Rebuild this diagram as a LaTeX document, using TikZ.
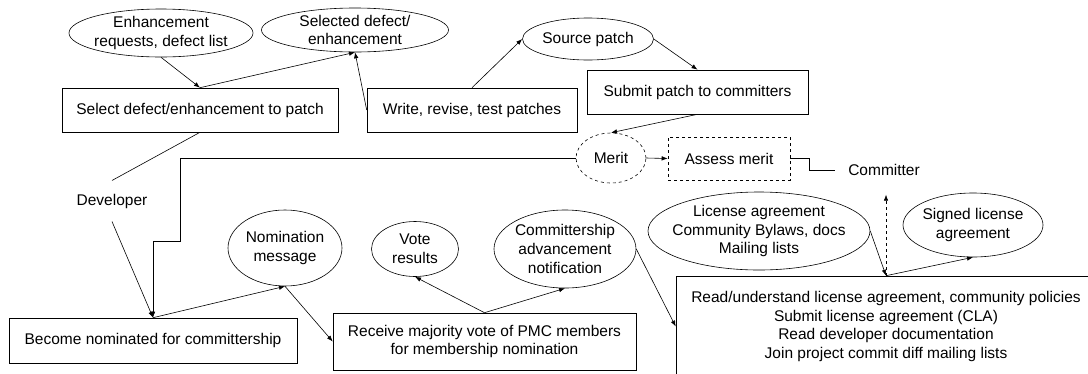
\documentclass[tikz,border=0pt]{standalone}
\usepackage{fontspec}
\setmainfont{Liberation Sans}
\usetikzlibrary{shapes.geometric,arrows.meta}
\tikzset{
  box/.style={draw, rectangle, inner sep=0pt},
  oval/.style={draw, ellipse, inner sep=0pt},
  flow/.style={-{Latex[length=6pt,width=4.5pt]}},
}
\begin{document}
\begin{tikzpicture}[x=1pt, y=-1pt, line width=0.6pt, font=\fontsize{15.5}{18.6}\selectfont, every node/.append style={align=center}]
\useasboundingbox (0,0) rectangle (1088,373);
\clip (0,0) rectangle (1088,373);
% developer side
\node[oval, minimum width=184pt, minimum height=48pt, label={center:Enhancement\\requests, defect list}] (enhreq) at (161,33) {};
\node[oval, minimum width=187pt, minimum height=44pt, label={center:Selected defect/\\enhancement}] (seldef) at (355,30) {};
\node[oval, minimum width=131pt, minimum height=42pt, label={center:Source patch}] (srcpatch) at (588,39) {};
\node[box, minimum width=276pt, minimum height=44pt] (selbox) at (200,110) {Select defect/enhancement to patch};
\node[box, minimum width=210pt, minimum height=44pt] (writebox) at (472,110) {Write, revise, test patches};
\node[box, minimum width=221pt, minimum height=44pt] (submitbox) at (697.5,92) {Submit patch to committers};
\node[oval, dashed, minimum width=70pt, minimum height=50pt, label={center:Merit}] (merit) at (611,158) {};
\node[box, dashed, minimum width=122pt, minimum height=43pt] (assess) at (729,158.5) {Assess merit};
\node[anchor=west, inner sep=0pt] (cmt) at (848,170) {Committer};
\node[inner xsep=0pt, inner ysep=13pt] (dev) at (112,201) {Developer};
% nomination side
\node[box, minimum width=288pt, minimum height=45pt] (become) at (153,340.5) {Become nominated for committership};
\node[oval, minimum width=114pt, minimum height=76pt, label={center:Nomination\\message}] (nommsg) at (285,248) {};
\node[box, minimum width=303pt, minimum height=57pt] (receive) at (484.5,341.5) {Receive majority vote of PMC members\\for membership nomination};
\node[oval, minimum width=87pt, minimum height=55pt, label={center:Vote\\results}] (vote) at (415,249) {};
\node[oval, minimum width=142pt, minimum height=78pt, label={center:Committership\\advancement\\notification}] (commadv) at (565,249) {};
\node[oval, minimum width=222pt, minimum height=78pt, label={center:License agreement\\Community Bylaws, docs\\Mailing lists}] (license) at (759,231) {};
\node[oval, minimum width=140pt, minimum height=64pt, label={center:Signed license\\agreement}] (signed) at (973,225) {};
\node[box, minimum width=420pt, minimum height=101pt] (big) at (886,326.5) {Read/understand license agreement, community policies\\Submit license agreement (CLA)\\Read developer documentation\\Join project commit diff mailing lists};
% connectors
\draw[flow] (enhreq.south) -- (selbox.north);
\draw[flow] (selbox.north) -- (seldef.south);
\draw[flow] (writebox.west) -- (seldef.south);
\draw[flow] (writebox.north) -- (srcpatch.west);
\draw[flow] (srcpatch.east) -- (submitbox.north);
\draw[flow] (submitbox.south) -- (merit.north);
\draw[flow] (merit.east) -- (assess.west);
\draw (assess.east) -- ++(19,0) |- ([xshift=-13pt]cmt.west);
\draw (selbox.south) -- (dev.north);
\draw[flow] (dev.south) -- (become.north);
\draw[flow] (merit.west) -| (180,241) -| (become.north);
\draw[flow] (become.north) -- (nommsg.south);
\draw[flow] (nommsg.south) -- (receive.west);
\draw[flow] (receive.north) -- (vote.south);
\draw[flow] (receive.north) -- (commadv.south);
\draw[flow] (commadv.east) -- (big.west);
\draw[flow] (license.east) -- (big.north);
\draw[flow] (big.north) -- (signed.south);
\draw[flow, dashed] (big.north) -- ++(0,-81);
\end{tikzpicture}
\end{document}
